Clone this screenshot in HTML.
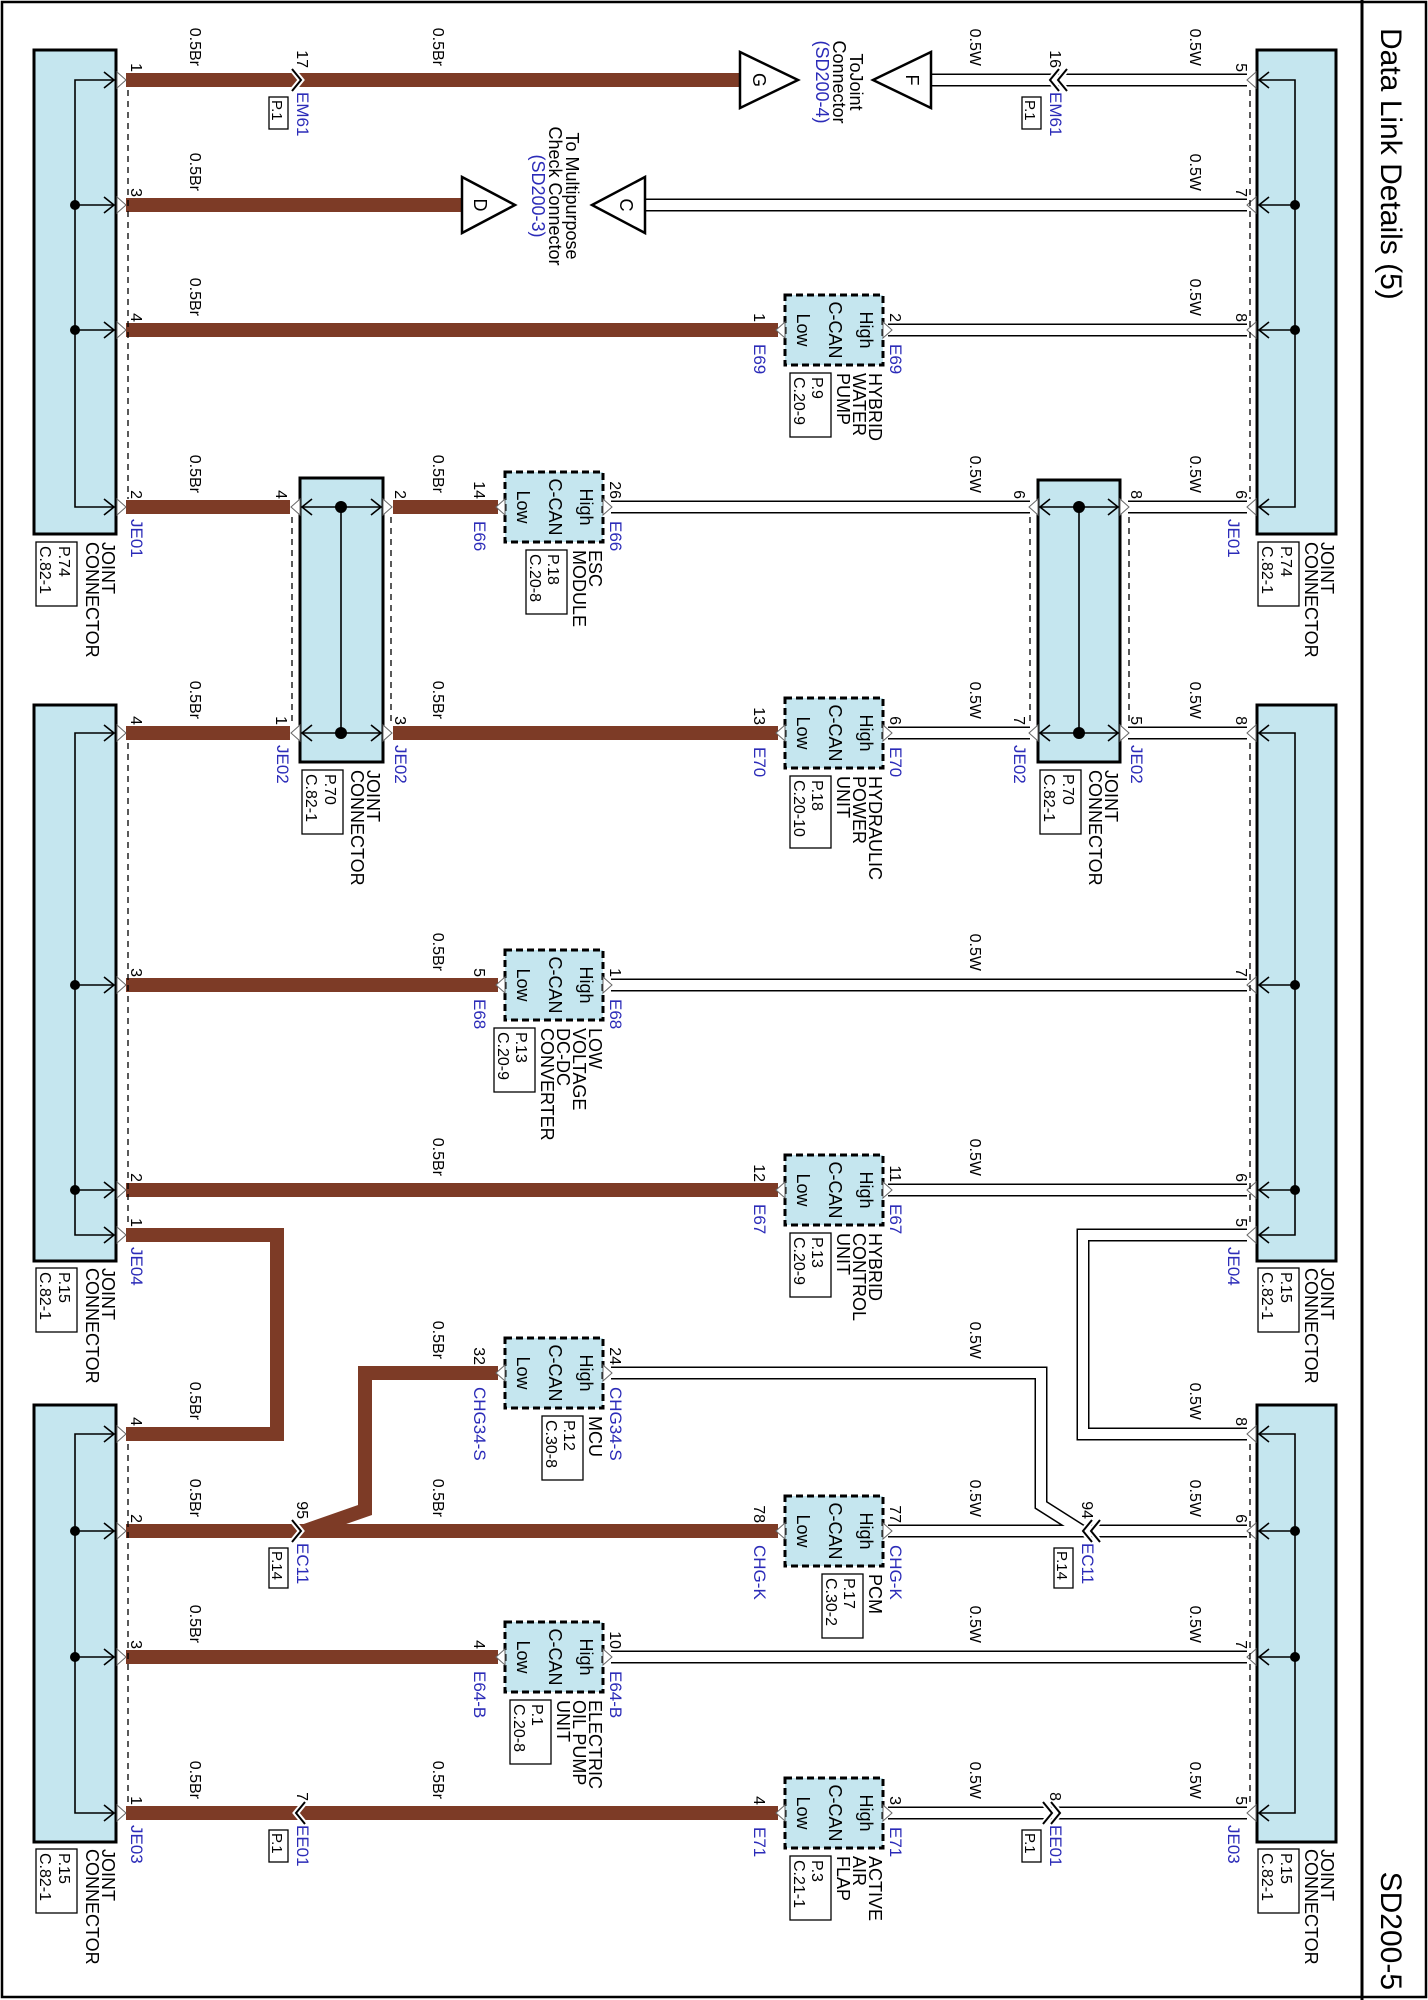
<!DOCTYPE html>
<html><head><meta charset="utf-8"><style>
html,body{margin:0;padding:0;background:#fff}
svg{display:block}
text{font-family:"Liberation Sans",Arial,sans-serif;fill:#000}
.t14{font-size:16px}.t15{font-size:16px}.t16{font-size:17px}.t17{font-size:18px}.t30{font-size:30px}
.ps{font-size:15px}
.bl{fill:#2b2bb8}
.e{text-anchor:end}.m{text-anchor:middle}
.br{stroke:#7d3b26;stroke-width:14;fill:none;stroke-linejoin:miter}
.wo{stroke:#000;stroke-width:13;fill:none}
.wi{stroke:#fff;stroke-width:10;fill:none}
.jb{fill:#c5e6ef;stroke:#000;stroke-width:3}
.cb{fill:#c5e6ef;stroke:#000;stroke-width:3;stroke-dasharray:7 4}
.ln{stroke:#000;stroke-width:1.6;fill:none}
.dl{stroke:#000;stroke-width:1.3;stroke-dasharray:6 5;fill:none}
.pb{fill:#fff;stroke:#000;stroke-width:1.3}
</style></head><body>
<svg width="1428" height="2000" viewBox="0 0 1428 2000" xmlns="http://www.w3.org/2000/svg">
<defs>
<path id="chR" d="M-10,-8L0,0L-10,8" fill="none" stroke="#000" stroke-width="1.6"/>
<path id="chL" d="M10,-8L0,0L10,8" fill="none" stroke="#000" stroke-width="1.6"/>
<polygon id="ptR" points="0,-8 9,0 0,8" fill="#fff" stroke="#666" stroke-width="1"/>
<polygon id="ptL" points="0,-8 -9,0 0,8" fill="#fff" stroke="#666" stroke-width="1"/>
<g id="cxR"><path d="M-9,-11L0,0L-9,11" fill="none" stroke="#fff" stroke-width="6"/><path d="M-9,-11L0,0L-9,11" fill="none" stroke="#000" stroke-width="2"/></g>
<g id="cxL"><path d="M9,-11L0,0L9,11" fill="none" stroke="#fff" stroke-width="6"/><path d="M9,-11L0,0L9,11" fill="none" stroke="#000" stroke-width="2"/></g>
</defs>
<rect x="0" y="0" width="1428" height="2000" fill="#fff"/>
<rect x="2" y="2" width="1424" height="1995" fill="none" stroke="#000" stroke-width="2.5"/>
<line x1="1362" y1="0" x2="1362" y2="2000" stroke="#000" stroke-width="3"/>
<text class="t30" transform="translate(1381 28) rotate(90)">Data Link Details (5)</text>
<text class="t30 e" transform="translate(1381 1990) rotate(90)">SD200-5</text>

<path class="br" d="M126 80H740M126 205H462M126 330H778M126 507H290M393 507H498M126 733H290M393 733H778M126 985H498M126 1190H778M126 1235H277V1434H126M498 1373H365V1510L305 1531M126 1531H778M126 1657H498M126 1813H778"/>
<path class="wo" d="M931 80H1247M645 205H1247M888 330H1247M611 507H1030M1128 507H1247M888 733H1030M1128 733H1247M611 985H1247M888 1190H1247M1247 1235H1083V1434H1247M611 1373H1041V1505L1082 1531M888 1531H1247M611 1657H1247M888 1813H1247"/>
<path class="wi" d="M931 80H1247M645 205H1247M888 330H1247M611 507H1030M1128 507H1247M888 733H1030M1128 733H1247M611 985H1247M888 1190H1247M1247 1235H1083V1434H1247M611 1373H1041V1505L1082 1531M888 1531H1247M611 1657H1247M888 1813H1247"/>

<rect class="jb" x="34" y="50" width="82" height="484"/>
<rect class="jb" x="34" y="705" width="82" height="556"/>
<rect class="jb" x="34" y="1405" width="82" height="437"/>
<path class="ln" d="M114 80H75V507H114M75 205H114M75 330H114M114 733H75V1235H114M75 985H114M75 1190H114M114 1434H75V1813H114M75 1531H114M75 1657H114"/>
<g fill="#000"><circle cx="75" cy="205" r="5"/><circle cx="75" cy="330" r="5"/><circle cx="75" cy="985" r="5"/><circle cx="75" cy="1190" r="5"/><circle cx="75" cy="1531" r="5"/><circle cx="75" cy="1657" r="5"/></g>
<g>
<use href="#chR" x="114" y="80"/><use href="#chR" x="114" y="205"/><use href="#chR" x="114" y="330"/><use href="#chR" x="114" y="507"/>
<use href="#chR" x="114" y="733"/><use href="#chR" x="114" y="985"/><use href="#chR" x="114" y="1190"/><use href="#chR" x="114" y="1235"/>
<use href="#chR" x="114" y="1434"/><use href="#chR" x="114" y="1531"/><use href="#chR" x="114" y="1657"/><use href="#chR" x="114" y="1813"/>
<use href="#ptR" x="117" y="80"/><use href="#ptR" x="117" y="205"/><use href="#ptR" x="117" y="330"/><use href="#ptR" x="117" y="507"/>
<use href="#ptR" x="117" y="733"/><use href="#ptR" x="117" y="985"/><use href="#ptR" x="117" y="1190"/><use href="#ptR" x="117" y="1235"/>
<use href="#ptR" x="117" y="1434"/><use href="#ptR" x="117" y="1531"/><use href="#ptR" x="117" y="1657"/><use href="#ptR" x="117" y="1813"/>
</g>
<path class="dl" d="M128 90V499M128 743V1227M128 1444V1805"/>

<rect class="jb" x="1257" y="50" width="79" height="484"/>
<rect class="jb" x="1257" y="705" width="79" height="556"/>
<rect class="jb" x="1257" y="1405" width="79" height="437"/>
<path class="ln" d="M1259 80H1295V507H1259M1295 205H1259M1295 330H1259M1259 733H1295V1235H1259M1295 985H1259M1295 1190H1259M1259 1434H1295V1813H1259M1295 1531H1259M1295 1657H1259"/>
<g fill="#000"><circle cx="1295" cy="205" r="5"/><circle cx="1295" cy="330" r="5"/><circle cx="1295" cy="985" r="5"/><circle cx="1295" cy="1190" r="5"/><circle cx="1295" cy="1531" r="5"/><circle cx="1295" cy="1657" r="5"/></g>
<g>
<use href="#chL" x="1259" y="80"/><use href="#chL" x="1259" y="205"/><use href="#chL" x="1259" y="330"/><use href="#chL" x="1259" y="507"/>
<use href="#chL" x="1259" y="733"/><use href="#chL" x="1259" y="985"/><use href="#chL" x="1259" y="1190"/><use href="#chL" x="1259" y="1235"/>
<use href="#chL" x="1259" y="1434"/><use href="#chL" x="1259" y="1531"/><use href="#chL" x="1259" y="1657"/><use href="#chL" x="1259" y="1813"/>
<use href="#ptL" x="1256" y="80"/><use href="#ptL" x="1256" y="205"/><use href="#ptL" x="1256" y="330"/><use href="#ptL" x="1256" y="507"/>
<use href="#ptL" x="1256" y="733"/><use href="#ptL" x="1256" y="985"/><use href="#ptL" x="1256" y="1190"/><use href="#ptL" x="1256" y="1235"/>
<use href="#ptL" x="1256" y="1434"/><use href="#ptL" x="1256" y="1531"/><use href="#ptL" x="1256" y="1657"/><use href="#ptL" x="1256" y="1813"/>
</g>
<path class="dl" d="M1250 90V499M1250 743V1227M1250 1444V1805"/>

<rect class="jb" x="300" y="478" width="83" height="284"/>
<path class="ln" d="M302 507H381M302 733H381M341 507V733"/>
<circle cx="341" cy="507" r="6"/><circle cx="341" cy="733" r="6"/>
<use href="#chL" x="302" y="507"/><use href="#chL" x="302" y="733"/><use href="#chR" x="381" y="507"/><use href="#chR" x="381" y="733"/>
<use href="#ptL" x="300" y="507"/><use href="#ptL" x="300" y="733"/><use href="#ptR" x="383" y="507"/><use href="#ptR" x="383" y="733"/>
<path class="dl" d="M292 517V723M391 517V723"/>
<rect class="jb" x="1038" y="480" width="82" height="282"/>
<path class="ln" d="M1040 507H1118M1040 733H1118M1079 507V733"/>
<circle cx="1079" cy="507" r="6"/><circle cx="1079" cy="733" r="6"/>
<use href="#chL" x="1040" y="507"/><use href="#chL" x="1040" y="733"/><use href="#chR" x="1118" y="507"/><use href="#chR" x="1118" y="733"/>
<use href="#ptL" x="1038" y="507"/><use href="#ptL" x="1038" y="733"/><use href="#ptR" x="1120" y="507"/><use href="#ptR" x="1120" y="733"/>
<path class="dl" d="M1030 517V723M1129 517V723"/>

<rect class="cb" x="505" y="472" width="98" height="70"/>
<rect class="cb" x="505" y="950" width="98" height="70"/>
<rect class="cb" x="505" y="1338" width="98" height="70"/>
<rect class="cb" x="505" y="1622" width="98" height="70"/>
<rect class="cb" x="785" y="295" width="98" height="70"/>
<rect class="cb" x="785" y="698" width="98" height="70"/>
<rect class="cb" x="785" y="1155" width="98" height="70"/>
<rect class="cb" x="785" y="1496" width="98" height="70"/>
<rect class="cb" x="785" y="1778" width="98" height="70"/>
<g>
<use href="#ptL" x="505" y="507"/><use href="#ptR" x="603" y="507"/>
<use href="#ptL" x="505" y="985"/><use href="#ptR" x="603" y="985"/>
<use href="#ptL" x="505" y="1373"/><use href="#ptR" x="603" y="1373"/>
<use href="#ptL" x="505" y="1657"/><use href="#ptR" x="603" y="1657"/>
<use href="#ptL" x="785" y="330"/><use href="#ptR" x="883" y="330"/>
<use href="#ptL" x="785" y="733"/><use href="#ptR" x="883" y="733"/>
<use href="#ptL" x="785" y="1190"/><use href="#ptR" x="883" y="1190"/>
<use href="#ptL" x="785" y="1531"/><use href="#ptR" x="883" y="1531"/>
<use href="#ptL" x="785" y="1813"/><use href="#ptR" x="883" y="1813"/>
</g>
<g class="t17">
<text class="m" transform="translate(580 507) rotate(90)">High</text><text class="m" transform="translate(549 507) rotate(90)">C-CAN</text><text class="m" transform="translate(517 507) rotate(90)">Low</text>
<text class="m" transform="translate(580 985) rotate(90)">High</text><text class="m" transform="translate(549 985) rotate(90)">C-CAN</text><text class="m" transform="translate(517 985) rotate(90)">Low</text>
<text class="m" transform="translate(580 1373) rotate(90)">High</text><text class="m" transform="translate(549 1373) rotate(90)">C-CAN</text><text class="m" transform="translate(517 1373) rotate(90)">Low</text>
<text class="m" transform="translate(580 1657) rotate(90)">High</text><text class="m" transform="translate(549 1657) rotate(90)">C-CAN</text><text class="m" transform="translate(517 1657) rotate(90)">Low</text>
<text class="m" transform="translate(860 330) rotate(90)">High</text><text class="m" transform="translate(829 330) rotate(90)">C-CAN</text><text class="m" transform="translate(797 330) rotate(90)">Low</text>
<text class="m" transform="translate(860 733) rotate(90)">High</text><text class="m" transform="translate(829 733) rotate(90)">C-CAN</text><text class="m" transform="translate(797 733) rotate(90)">Low</text>
<text class="m" transform="translate(860 1190) rotate(90)">High</text><text class="m" transform="translate(829 1190) rotate(90)">C-CAN</text><text class="m" transform="translate(797 1190) rotate(90)">Low</text>
<text class="m" transform="translate(860 1531) rotate(90)">High</text><text class="m" transform="translate(829 1531) rotate(90)">C-CAN</text><text class="m" transform="translate(797 1531) rotate(90)">Low</text>
<text class="m" transform="translate(860 1813) rotate(90)">High</text><text class="m" transform="translate(829 1813) rotate(90)">C-CAN</text><text class="m" transform="translate(797 1813) rotate(90)">Low</text>
</g>

<polygon points="740,52 740,108 798,80" fill="#fff" stroke="#000" stroke-width="2.5"/>
<polygon points="931,52 931,108 873,80" fill="#fff" stroke="#000" stroke-width="2.5"/>
<polygon points="462,177 462,233 515,205" fill="#fff" stroke="#000" stroke-width="2.5"/>
<polygon points="645,177 645,233 592,205" fill="#fff" stroke="#000" stroke-width="2.5"/>
<g class="t17">
<text class="m" transform="translate(753 80) rotate(90)">G</text>
<text class="m" transform="translate(906 80) rotate(90)">F</text>
<text class="m" transform="translate(474 205) rotate(90)">D</text>
<text class="m" transform="translate(620 205) rotate(90)">C</text>
<text class="m" transform="translate(850 82) rotate(90)">ToJoint</text>
<text class="m" transform="translate(833 82) rotate(90)">Connector</text>
<text class="m bl" transform="translate(816 82) rotate(90)">(SD200-4)</text>
<text class="m" transform="translate(566 196) rotate(90)">To Multipurpose</text>
<text class="m" transform="translate(549 196) rotate(90)">Check Connector</text>
<text class="m bl" transform="translate(532 196) rotate(90)">(SD200-3)</text>
</g>

<use href="#cxR" x="301" y="80"/>
<use href="#cxL" x="1050" y="80"/><use href="#cxL" x="1058" y="80"/>
<use href="#cxR" x="301" y="1531"/>
<use href="#cxL" x="1083" y="1531"/><use href="#cxL" x="1091" y="1531"/>
<use href="#cxL" x="296" y="1813"/>
<use href="#cxR" x="1052" y="1813"/><use href="#cxR" x="1060" y="1813"/>

<g class="t15">
<text class="e" transform="translate(131 72) rotate(90)">1</text>
<text class="e" transform="translate(131 197) rotate(90)">3</text>
<text class="e" transform="translate(131 322) rotate(90)">4</text>
<text class="e" transform="translate(131 499) rotate(90)">2</text>
<text class="e" transform="translate(131 725) rotate(90)">4</text>
<text class="e" transform="translate(131 977) rotate(90)">3</text>
<text class="e" transform="translate(131 1182) rotate(90)">2</text>
<text class="e" transform="translate(131 1227) rotate(90)">1</text>
<text class="e" transform="translate(131 1426) rotate(90)">4</text>
<text class="e" transform="translate(131 1523) rotate(90)">2</text>
<text class="e" transform="translate(131 1649) rotate(90)">3</text>
<text class="e" transform="translate(131 1805) rotate(90)">1</text>
<text class="e" transform="translate(1236 72) rotate(90)">5</text>
<text class="e" transform="translate(1236 197) rotate(90)">7</text>
<text class="e" transform="translate(1236 322) rotate(90)">8</text>
<text class="e" transform="translate(1236 499) rotate(90)">6</text>
<text class="e" transform="translate(1236 725) rotate(90)">8</text>
<text class="e" transform="translate(1236 977) rotate(90)">7</text>
<text class="e" transform="translate(1236 1182) rotate(90)">6</text>
<text class="e" transform="translate(1236 1227) rotate(90)">5</text>
<text class="e" transform="translate(1236 1426) rotate(90)">8</text>
<text class="e" transform="translate(1236 1523) rotate(90)">6</text>
<text class="e" transform="translate(1236 1649) rotate(90)">7</text>
<text class="e" transform="translate(1236 1805) rotate(90)">5</text>
<text class="e" transform="translate(276 499) rotate(90)">4</text>
<text class="e" transform="translate(276 725) rotate(90)">1</text>
<text class="e" transform="translate(395 499) rotate(90)">2</text>
<text class="e" transform="translate(395 725) rotate(90)">3</text>
<text class="e" transform="translate(1014 499) rotate(90)">6</text>
<text class="e" transform="translate(1014 725) rotate(90)">7</text>
<text class="e" transform="translate(1131 499) rotate(90)">8</text>
<text class="e" transform="translate(1131 725) rotate(90)">5</text>
<text class="e" transform="translate(297 68) rotate(90)">17</text>
<text class="e" transform="translate(1050 68) rotate(90)">16</text>
<text class="e" transform="translate(297 1519) rotate(90)">95</text>
<text class="e" transform="translate(1082 1519) rotate(90)">94</text>
<text class="e" transform="translate(297 1801) rotate(90)">7</text>
<text class="e" transform="translate(1050 1801) rotate(90)">8</text>
<text class="e" transform="translate(474 499) rotate(90)">14</text>
<text class="e" transform="translate(610 499) rotate(90)">26</text>
<text class="e" transform="translate(474 977) rotate(90)">5</text>
<text class="e" transform="translate(610 977) rotate(90)">1</text>
<text class="e" transform="translate(474 1365) rotate(90)">32</text>
<text class="e" transform="translate(610 1365) rotate(90)">24</text>
<text class="e" transform="translate(474 1649) rotate(90)">4</text>
<text class="e" transform="translate(610 1649) rotate(90)">10</text>
<text class="e" transform="translate(754 322) rotate(90)">1</text>
<text class="e" transform="translate(890 322) rotate(90)">2</text>
<text class="e" transform="translate(754 725) rotate(90)">13</text>
<text class="e" transform="translate(890 725) rotate(90)">6</text>
<text class="e" transform="translate(754 1182) rotate(90)">12</text>
<text class="e" transform="translate(890 1182) rotate(90)">11</text>
<text class="e" transform="translate(754 1523) rotate(90)">78</text>
<text class="e" transform="translate(890 1523) rotate(90)">77</text>
<text class="e" transform="translate(754 1805) rotate(90)">4</text>
<text class="e" transform="translate(890 1805) rotate(90)">3</text>
</g>

<g class="t16 bl">
<text class="bl" transform="translate(131 519) rotate(90)">JE01</text>
<text class="bl" transform="translate(131 1247) rotate(90)">JE04</text>
<text class="bl" transform="translate(131 1825) rotate(90)">JE03</text>
<text class="bl" transform="translate(1228 519) rotate(90)">JE01</text>
<text class="bl" transform="translate(1228 1247) rotate(90)">JE04</text>
<text class="bl" transform="translate(1228 1825) rotate(90)">JE03</text>
<text class="bl" transform="translate(277 745) rotate(90)">JE02</text>
<text class="bl" transform="translate(395 745) rotate(90)">JE02</text>
<text class="bl" transform="translate(1014 745) rotate(90)">JE02</text>
<text class="bl" transform="translate(1131 745) rotate(90)">JE02</text>
<text class="bl" transform="translate(297 92) rotate(90)">EM61</text>
<text class="bl" transform="translate(1050 92) rotate(90)">EM61</text>
<text class="bl" transform="translate(297 1543) rotate(90)">EC11</text>
<text class="bl" transform="translate(1082 1543) rotate(90)">EC11</text>
<text class="bl" transform="translate(297 1825) rotate(90)">EE01</text>
<text class="bl" transform="translate(1050 1825) rotate(90)">EE01</text>
<text class="bl" transform="translate(474 521) rotate(90)">E66</text>
<text class="bl" transform="translate(610 521) rotate(90)">E66</text>
<text class="bl" transform="translate(474 999) rotate(90)">E68</text>
<text class="bl" transform="translate(610 999) rotate(90)">E68</text>
<text class="bl" transform="translate(474 1387) rotate(90)">CHG34-S</text>
<text class="bl" transform="translate(610 1387) rotate(90)">CHG34-S</text>
<text class="bl" transform="translate(474 1671) rotate(90)">E64-B</text>
<text class="bl" transform="translate(610 1671) rotate(90)">E64-B</text>
<text class="bl" transform="translate(754 344) rotate(90)">E69</text>
<text class="bl" transform="translate(890 344) rotate(90)">E69</text>
<text class="bl" transform="translate(754 747) rotate(90)">E70</text>
<text class="bl" transform="translate(890 747) rotate(90)">E70</text>
<text class="bl" transform="translate(754 1204) rotate(90)">E67</text>
<text class="bl" transform="translate(890 1204) rotate(90)">E67</text>
<text class="bl" transform="translate(754 1545) rotate(90)">CHG-K</text>
<text class="bl" transform="translate(890 1545) rotate(90)">CHG-K</text>
<text class="bl" transform="translate(754 1827) rotate(90)">E71</text>
<text class="bl" transform="translate(890 1827) rotate(90)">E71</text>
</g>

<rect class="pb" x="269" y="97" width="19" height="32"/><text class="ps" transform="translate(272 100) rotate(90)">P.1</text>
<rect class="pb" x="1022" y="97" width="19" height="32"/><text class="ps" transform="translate(1025 100) rotate(90)">P.1</text>
<rect class="pb" x="269" y="1548" width="19" height="40"/><text class="ps" transform="translate(272 1551) rotate(90)">P.14</text>
<rect class="pb" x="1054" y="1548" width="19" height="40"/><text class="ps" transform="translate(1057 1551) rotate(90)">P.14</text>
<rect class="pb" x="269" y="1830" width="19" height="32"/><text class="ps" transform="translate(272 1833) rotate(90)">P.1</text>
<rect class="pb" x="1022" y="1830" width="19" height="32"/><text class="ps" transform="translate(1025 1833) rotate(90)">P.1</text>

<g class="t14">
<text class="e" transform="translate(190 66) rotate(90)">0.5Br</text>
<text class="e" transform="translate(190 191) rotate(90)">0.5Br</text>
<text class="e" transform="translate(190 316) rotate(90)">0.5Br</text>
<text class="e" transform="translate(190 493) rotate(90)">0.5Br</text>
<text class="e" transform="translate(190 719) rotate(90)">0.5Br</text>
<text class="e" transform="translate(190 1420) rotate(90)">0.5Br</text>
<text class="e" transform="translate(190 1517) rotate(90)">0.5Br</text>
<text class="e" transform="translate(190 1643) rotate(90)">0.5Br</text>
<text class="e" transform="translate(190 1799) rotate(90)">0.5Br</text>
<text class="e" transform="translate(433 66) rotate(90)">0.5Br</text>
<text class="e" transform="translate(433 493) rotate(90)">0.5Br</text>
<text class="e" transform="translate(433 719) rotate(90)">0.5Br</text>
<text class="e" transform="translate(433 971) rotate(90)">0.5Br</text>
<text class="e" transform="translate(433 1176) rotate(90)">0.5Br</text>
<text class="e" transform="translate(433 1359) rotate(90)">0.5Br</text>
<text class="e" transform="translate(433 1517) rotate(90)">0.5Br</text>
<text class="e" transform="translate(433 1799) rotate(90)">0.5Br</text>
<text class="e" transform="translate(970 66) rotate(90)">0.5W</text>
<text class="e" transform="translate(970 493) rotate(90)">0.5W</text>
<text class="e" transform="translate(970 719) rotate(90)">0.5W</text>
<text class="e" transform="translate(970 971) rotate(90)">0.5W</text>
<text class="e" transform="translate(970 1176) rotate(90)">0.5W</text>
<text class="e" transform="translate(970 1359) rotate(90)">0.5W</text>
<text class="e" transform="translate(970 1517) rotate(90)">0.5W</text>
<text class="e" transform="translate(970 1643) rotate(90)">0.5W</text>
<text class="e" transform="translate(970 1799) rotate(90)">0.5W</text>
<text class="e" transform="translate(1190 66) rotate(90)">0.5W</text>
<text class="e" transform="translate(1190 191) rotate(90)">0.5W</text>
<text class="e" transform="translate(1190 316) rotate(90)">0.5W</text>
<text class="e" transform="translate(1190 493) rotate(90)">0.5W</text>
<text class="e" transform="translate(1190 719) rotate(90)">0.5W</text>
<text class="e" transform="translate(1190 1420) rotate(90)">0.5W</text>
<text class="e" transform="translate(1190 1517) rotate(90)">0.5W</text>
<text class="e" transform="translate(1190 1643) rotate(90)">0.5W</text>
<text class="e" transform="translate(1190 1799) rotate(90)">0.5W</text>
</g>

<g class="t17">
<text transform="translate(102 542) rotate(90)">JOINT</text><text transform="translate(86 542) rotate(90)">CONNECTOR</text>
<text transform="translate(102 1268) rotate(90)">JOINT</text><text transform="translate(86 1268) rotate(90)">CONNECTOR</text>
<text transform="translate(102 1849) rotate(90)">JOINT</text><text transform="translate(86 1849) rotate(90)">CONNECTOR</text>
<text transform="translate(1321 542) rotate(90)">JOINT</text><text transform="translate(1305 542) rotate(90)">CONNECTOR</text>
<text transform="translate(1321 1268) rotate(90)">JOINT</text><text transform="translate(1305 1268) rotate(90)">CONNECTOR</text>
<text transform="translate(1321 1849) rotate(90)">JOINT</text><text transform="translate(1305 1849) rotate(90)">CONNECTOR</text>
<text transform="translate(367 770) rotate(90)">JOINT</text><text transform="translate(351 770) rotate(90)">CONNECTOR</text>
<text transform="translate(1105 770) rotate(90)">JOINT</text><text transform="translate(1089 770) rotate(90)">CONNECTOR</text>
</g>
<g>
<rect class="pb" x="36" y="542" width="41" height="64"/>
<rect class="pb" x="36" y="1268" width="41" height="64"/>
<rect class="pb" x="36" y="1849" width="41" height="64"/>
<rect class="pb" x="1258" y="542" width="41" height="64"/>
<rect class="pb" x="1258" y="1268" width="41" height="64"/>
<rect class="pb" x="1258" y="1849" width="41" height="64"/>
<rect class="pb" x="302" y="770" width="41" height="64"/>
<rect class="pb" x="1040" y="770" width="41" height="64"/>
</g>
<g class="t15">
<text transform="translate(59 546) rotate(90)">P.74</text><text transform="translate(40 546) rotate(90)">C.82-1</text>
<text transform="translate(59 1272) rotate(90)">P.15</text><text transform="translate(40 1272) rotate(90)">C.82-1</text>
<text transform="translate(59 1853) rotate(90)">P.15</text><text transform="translate(40 1853) rotate(90)">C.82-1</text>
<text transform="translate(1281 546) rotate(90)">P.74</text><text transform="translate(1262 546) rotate(90)">C.82-1</text>
<text transform="translate(1281 1272) rotate(90)">P.15</text><text transform="translate(1262 1272) rotate(90)">C.82-1</text>
<text transform="translate(1281 1853) rotate(90)">P.15</text><text transform="translate(1262 1853) rotate(90)">C.82-1</text>
<text transform="translate(325 774) rotate(90)">P.70</text><text transform="translate(306 774) rotate(90)">C.82-1</text>
<text transform="translate(1063 774) rotate(90)">P.70</text><text transform="translate(1044 774) rotate(90)">C.82-1</text>
</g>

<g class="t17">
<text transform="translate(589 550) rotate(90)">ESC</text><text transform="translate(573 550) rotate(90)">MODULE</text>
<text transform="translate(589 1028) rotate(90)">LOW</text><text transform="translate(573 1028) rotate(90)">VOLTAGE</text><text transform="translate(557 1028) rotate(90)">DC-DC</text><text transform="translate(541 1028) rotate(90)">CONVERTER</text>
<text transform="translate(589 1416) rotate(90)">MCU</text>
<text transform="translate(589 1700) rotate(90)">ELECTRIC</text><text transform="translate(573 1700) rotate(90)">OIL PUMP</text><text transform="translate(557 1700) rotate(90)">UNIT</text>
<text transform="translate(869 373) rotate(90)">HYBRID</text><text transform="translate(853 373) rotate(90)">WATER</text><text transform="translate(837 373) rotate(90)">PUMP</text>
<text transform="translate(869 776) rotate(90)">HYDRAULIC</text><text transform="translate(853 776) rotate(90)">POWER</text><text transform="translate(837 776) rotate(90)">UNIT</text>
<text transform="translate(869 1233) rotate(90)">HYBRID</text><text transform="translate(853 1233) rotate(90)">CONTROL</text><text transform="translate(837 1233) rotate(90)">UNIT</text>
<text transform="translate(869 1574) rotate(90)">PCM</text>
<text transform="translate(869 1856) rotate(90)">ACTIVE</text><text transform="translate(853 1856) rotate(90)">AIR</text><text transform="translate(837 1856) rotate(90)">FLAP</text>
</g>
<g>
<rect class="pb" x="526" y="550" width="41" height="64"/>
<rect class="pb" x="494" y="1028" width="41" height="64"/>
<rect class="pb" x="542" y="1416" width="41" height="64"/>
<rect class="pb" x="510" y="1700" width="41" height="64"/>
<rect class="pb" x="790" y="373" width="41" height="64"/>
<rect class="pb" x="790" y="776" width="41" height="72"/>
<rect class="pb" x="790" y="1233" width="41" height="64"/>
<rect class="pb" x="822" y="1574" width="41" height="64"/>
<rect class="pb" x="790" y="1856" width="41" height="64"/>
</g>
<g class="t15">
<text transform="translate(548 554) rotate(90)">P.18</text><text transform="translate(530 554) rotate(90)">C.20-8</text>
<text transform="translate(516 1032) rotate(90)">P.13</text><text transform="translate(498 1032) rotate(90)">C.20-9</text>
<text transform="translate(564 1420) rotate(90)">P.12</text><text transform="translate(546 1420) rotate(90)">C.30-8</text>
<text transform="translate(532 1704) rotate(90)">P.1</text><text transform="translate(514 1704) rotate(90)">C.20-8</text>
<text transform="translate(812 377) rotate(90)">P.9</text><text transform="translate(794 377) rotate(90)">C.20-9</text>
<text transform="translate(812 780) rotate(90)">P.18</text><text transform="translate(794 780) rotate(90)">C.20-10</text>
<text transform="translate(812 1237) rotate(90)">P.13</text><text transform="translate(794 1237) rotate(90)">C.20-9</text>
<text transform="translate(844 1578) rotate(90)">P.17</text><text transform="translate(826 1578) rotate(90)">C.30-2</text>
<text transform="translate(812 1860) rotate(90)">P.3</text><text transform="translate(794 1860) rotate(90)">C.21-1</text>
</g>
</svg>
</body></html>
